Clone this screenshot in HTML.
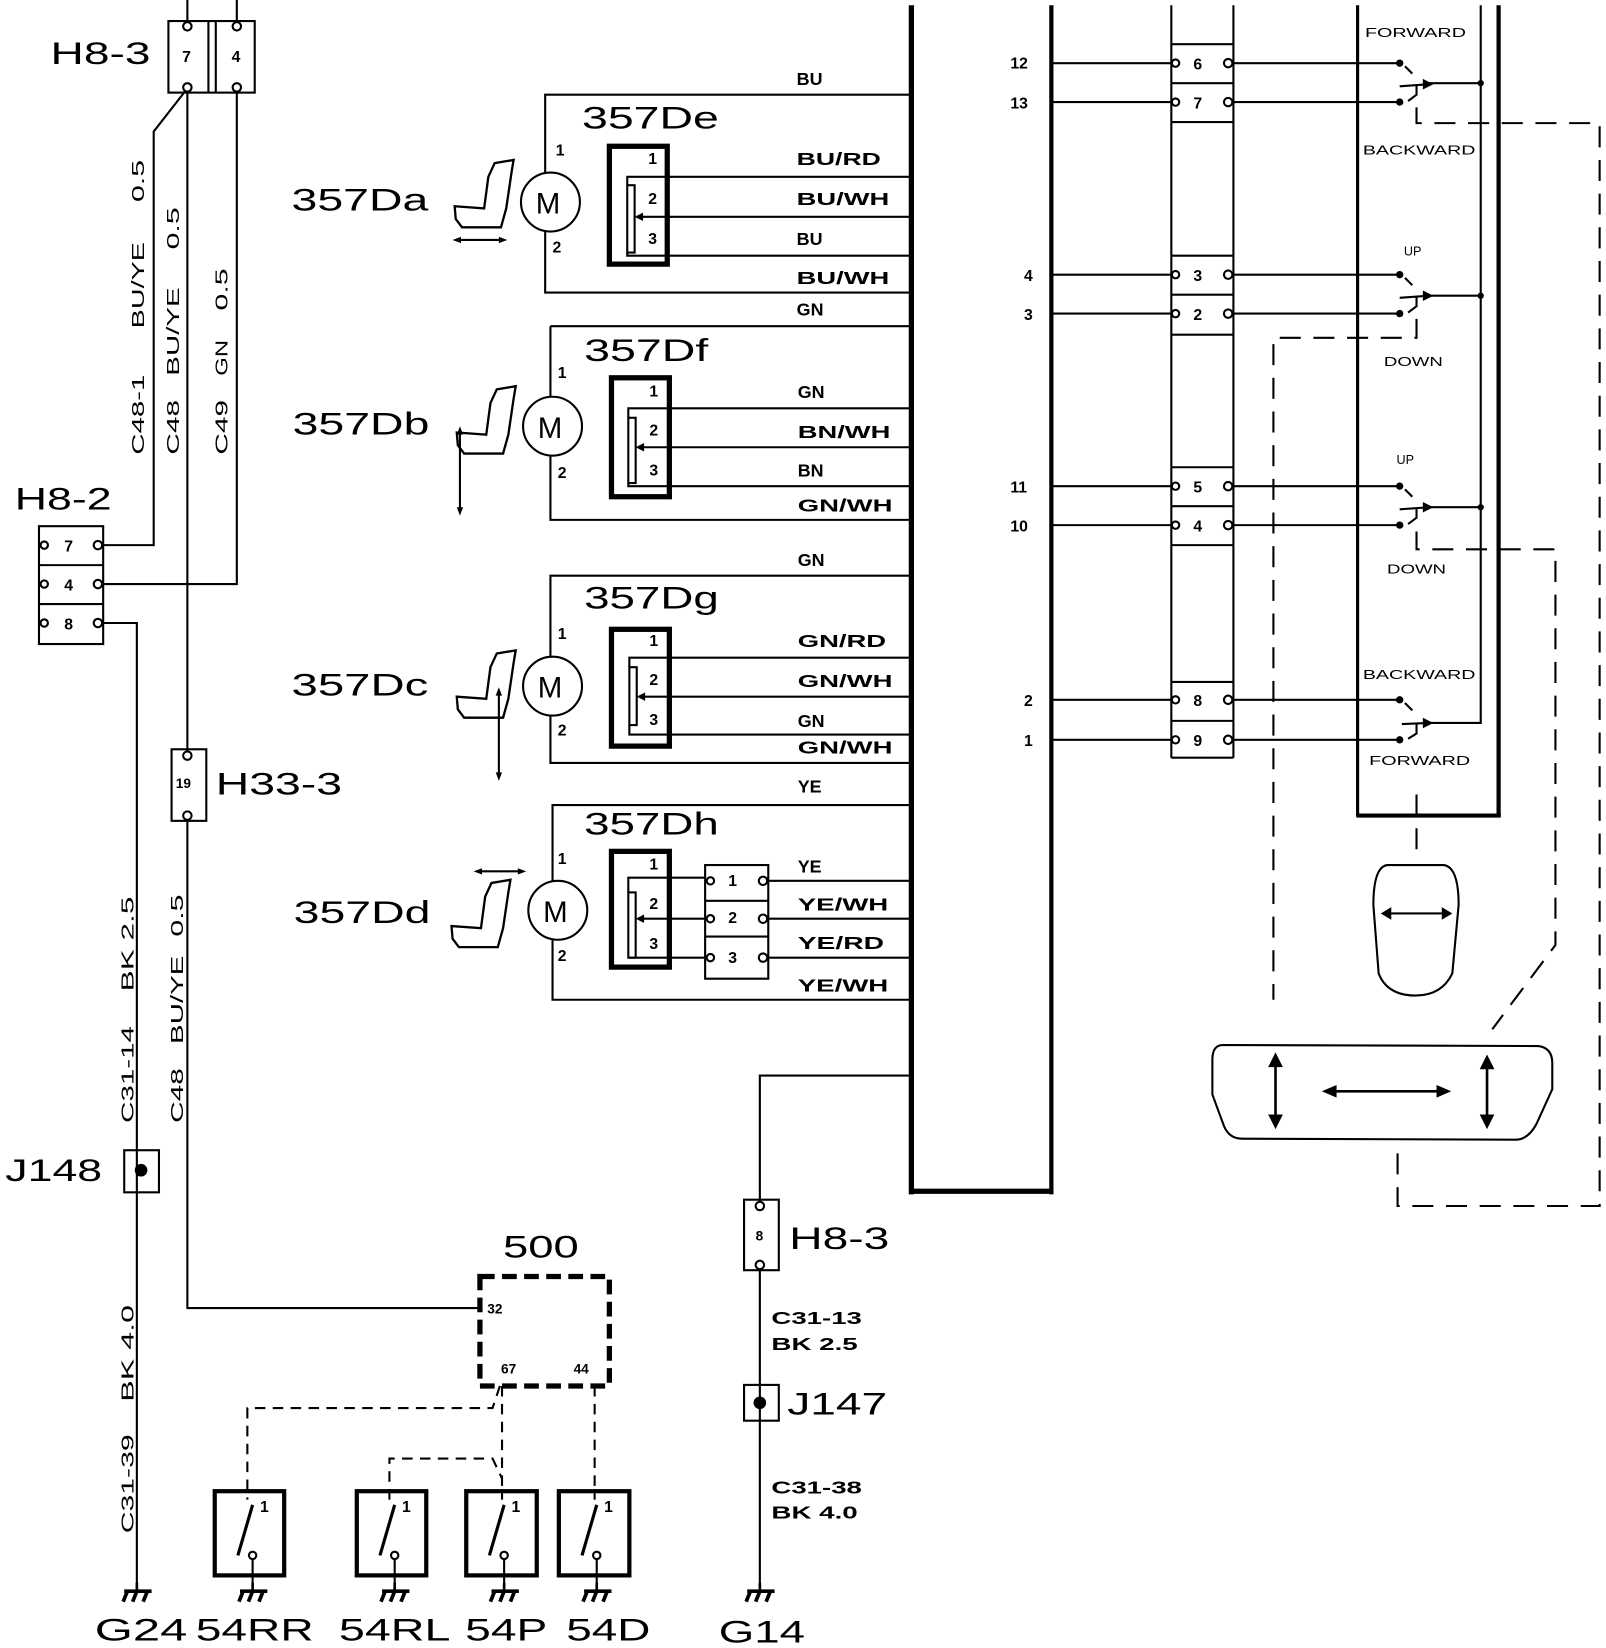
<!DOCTYPE html>
<html><head><meta charset="utf-8"><style>
html,body{margin:0;padding:0;background:#fff;}
svg{display:block;}
text{font-family:"Liberation Sans",sans-serif;fill:#000;}
.big{font-size:30px;}
.w{font-size:17px;font-weight:bold;}
.s{font-size:12px;}
.n{font-size:15px;font-weight:bold;}
</style></head><body>
<svg width="1606" height="1648" viewBox="0 0 1526 1566" xmlns="http://www.w3.org/2000/svg">
<defs>
<g id="seat"><path d="M2 44 L30 46 L34 16 L40 3 L58 0 L56 12 L51 46 L46 64 L9 64 L3 56 Z" fill="none" stroke="#000" stroke-width="2.2"/></g>
<g id="gnd"><line x1="0" y1="0" x2="0" y2="-8" stroke="#000" stroke-width="2.5"/><path d="M-12 0 L14 0 M-9 0 L-13 10 M0 0 L-4 10 M10 0 L6 10" stroke="#000" stroke-width="3.5" fill="none"/></g>
</defs>
<g stroke="#000" fill="none" stroke-width="2">
<rect x="160" y="20" width="82" height="68"/>
<line x1="198" y1="20" x2="198" y2="88"/><line x1="205" y1="20" x2="205" y2="88"/>
<line x1="178" y1="0" x2="178" y2="21"/><line x1="225" y1="0" x2="225" y2="21"/>
<polyline points="178,84 146,125 146,518 96,518"/>
<line x1="178" y1="84" x2="178" y2="714"/>
<polyline points="225,84 225,555 96,555"/>
<polyline points="96,592 130,592 130,1505"/>
<rect x="37" y="500" width="61" height="112"/>
<line x1="37" y1="537" x2="98" y2="537"/><line x1="37" y1="574" x2="98" y2="574"/>
<rect x="163" y="712" width="33" height="68"/>
<polyline points="178,776 178,1243 455,1243"/>
<rect x="118" y="1093" width="33" height="40"/>
<rect x="456" y="1213" width="123" height="104" stroke-width="5" stroke-dasharray="14,7"/>
<g stroke-dasharray="10,7">
<polyline points="475,1317 468,1338 235,1338 235,1425"/>
<line x1="477" y1="1317" x2="477" y2="1425"/>
<polyline points="370,1425 370,1386 468,1386 477,1405"/>
<line x1="565" y1="1317" x2="565" y2="1425"/>
</g>
<g stroke-width="4">
<rect x="204" y="1417" width="66" height="80"/><rect x="339" y="1417" width="66" height="80"/>
<rect x="443" y="1417" width="67" height="80"/><rect x="531" y="1417" width="67" height="80"/>
</g>
<g stroke-width="3">
<line x1="240" y1="1430" x2="226" y2="1478"/><line x1="375" y1="1430" x2="361" y2="1478"/>
<line x1="479" y1="1430" x2="465" y2="1478"/><line x1="567" y1="1430" x2="553" y2="1478"/>
</g>
<line x1="866" y1="5" x2="866" y2="1135" stroke-width="5"/>
<line x1="999" y1="5" x2="999" y2="1135" stroke-width="4"/>
<line x1="864" y1="1132" x2="1001" y2="1132" stroke-width="5"/>
<polyline points="865,90 518,90 518,164"/><polyline points="518,220 518,278 865,278"/>
<rect x="579" y="139" width="55" height="112" stroke-width="5"/>
<rect x="596" y="176" width="7" height="64"/>
<polyline points="865,168 596,168 596,176"/><line x1="865" y1="206" x2="606" y2="206"/>
<polyline points="865,243 596,243 596,240"/>
<line x1="865" y1="310" x2="523" y2="310"/>
<polyline points="523,310 523,377"/><polyline points="523,433 523,494 865,494"/>
<rect x="581" y="359" width="55" height="113" stroke-width="5"/>
<rect x="597" y="397" width="7" height="62"/>
<polyline points="865,388 597,388 597,397"/><line x1="865" y1="425" x2="607" y2="425"/>
<polyline points="865,462 597,462 597,459"/>
<polyline points="865,547 523,547 523,624"/><polyline points="523,680 523,725 865,725"/>
<rect x="581" y="598" width="55" height="111" stroke-width="5"/>
<rect x="598" y="634" width="7" height="55"/>
<polyline points="865,625 598,625 598,634"/><line x1="865" y1="662" x2="608" y2="662"/>
<polyline points="865,698 598,698 598,689"/>
<polyline points="865,765 525,765 525,838"/><polyline points="525,893 525,950 865,950"/>
<rect x="581" y="809" width="55" height="110" stroke-width="5"/>
<rect x="597" y="848" width="7" height="62"/>
<polyline points="670,834 597,834 597,848"/><line x1="670" y1="873" x2="607" y2="873"/>
<polyline points="670,910 597,910 597,910"/>
<rect x="670" y="822" width="60" height="108"/>
<line x1="670" y1="856" x2="730" y2="856"/><line x1="670" y1="890" x2="730" y2="890"/>
<line x1="730" y1="837" x2="865" y2="837"/><line x1="730" y1="873" x2="865" y2="873"/><line x1="730" y1="910" x2="865" y2="910"/>
<polyline points="865,1022 722,1022 722,1142"/>
<rect x="707" y="1140" width="33" height="67"/>
<line x1="722" y1="1203" x2="722" y2="1505"/>
<rect x="707" y="1316" width="33" height="34"/>
<circle cx="523" cy="192" r="28" fill="#fff"/><circle cx="525" cy="405" r="28" fill="#fff"/>
<circle cx="525" cy="652" r="28" fill="#fff"/><circle cx="530" cy="865" r="28" fill="#fff"/>
<line x1="1113" y1="5" x2="1113" y2="720"/><line x1="1172" y1="5" x2="1172" y2="720"/>
<line x1="1113" y1="42" x2="1172" y2="42"/><line x1="1113" y1="79" x2="1172" y2="79"/><line x1="1113" y1="116" x2="1172" y2="116"/>
<line x1="1113" y1="243" x2="1172" y2="243"/><line x1="1113" y1="280" x2="1172" y2="280"/><line x1="1113" y1="318" x2="1172" y2="318"/>
<line x1="1113" y1="444" x2="1172" y2="444"/><line x1="1113" y1="481" x2="1172" y2="481"/><line x1="1113" y1="518" x2="1172" y2="518"/>
<line x1="1113" y1="648" x2="1172" y2="648"/><line x1="1113" y1="685" x2="1172" y2="685"/><line x1="1113" y1="720" x2="1172" y2="720"/>
<g>
<line x1="999" y1="60" x2="1114" y2="60"/><line x1="999" y1="97" x2="1114" y2="97"/>
<line x1="999" y1="261" x2="1114" y2="261"/><line x1="999" y1="298" x2="1114" y2="298"/>
<line x1="999" y1="462" x2="1114" y2="462"/><line x1="999" y1="499" x2="1114" y2="499"/>
<line x1="999" y1="665" x2="1114" y2="665"/><line x1="999" y1="703" x2="1114" y2="703"/>
<line x1="1171" y1="60" x2="1329" y2="60"/><line x1="1171" y1="97" x2="1329" y2="97"/>
<line x1="1171" y1="261" x2="1329" y2="261"/><line x1="1171" y1="298" x2="1329" y2="298"/>
<line x1="1171" y1="462" x2="1329" y2="462"/><line x1="1171" y1="499" x2="1329" y2="499"/>
<line x1="1171" y1="665" x2="1329" y2="665"/><line x1="1171" y1="703" x2="1329" y2="703"/>
</g>
<line x1="1290" y1="5" x2="1290" y2="776" stroke-width="3"/>
<line x1="1424" y1="5" x2="1424" y2="776" stroke-width="4"/>
<line x1="1289" y1="775" x2="1426" y2="775" stroke-width="4"/>
<line x1="1407" y1="5" x2="1407" y2="688"/>
<g stroke-width="2">
<path d="M1335 63 L1342 70 M1330 82 L1358 80 M1346 80 L1346 90 L1338 96"/>
<line x1="1358" y1="79" x2="1407" y2="79"/>
<path d="M1335 264 L1342 271 M1330 283 L1358 281 M1346 281 L1346 291 L1338 297"/>
<line x1="1358" y1="281" x2="1407" y2="281"/>
<path d="M1335 465 L1342 472 M1330 484 L1358 482 M1346 482 L1346 492 L1338 498"/>
<line x1="1358" y1="482" x2="1407" y2="482"/>
<path d="M1335 668 L1342 675 M1332 688 L1358 687 M1346 687 L1346 697 L1338 702"/>
<line x1="1358" y1="687" x2="1407" y2="687"/>
</g>
<g stroke-dasharray="20,12" stroke-width="2">
<polyline points="1346,102 1346,117 1520,117 1520,1146 1328,1146 1328,1085"/>
<polyline points="1346,303 1346,321 1210,321 1210,950"/>
<polyline points="1346,505 1346,522 1478,522 1478,898 1418,978"/>
<line x1="1346" y1="755" x2="1346" y2="815"/>
</g>
<path d="M1318 822 L1372 822 Q1386 824 1386 860 L1380 925 Q1370 946 1345 946 Q1318 946 1310 925 L1305 860 Q1305 824 1318 822 Z"/>
<line x1="1318" y1="868" x2="1374" y2="868"/>
<path d="M1162 993 L1462 994 Q1475 996 1475 1010 L1475 1035 L1460 1068 Q1452 1083 1440 1083 L1180 1082 Q1168 1082 1163 1070 L1152 1040 L1152 1007 Q1152 993 1162 993 Z"/>
<line x1="1212" y1="1010" x2="1212" y2="1062" stroke-width="2.5"/>
<line x1="1270" y1="1037" x2="1365" y2="1037" stroke-width="2.5"/>
<line x1="1413" y1="1012" x2="1413" y2="1062" stroke-width="2.5"/>
<line x1="436" y1="228" x2="476" y2="228"/>
<line x1="437" y1="412" x2="437" y2="485"/>
<line x1="474" y1="660" x2="474" y2="738"/>
<line x1="456" y1="828" x2="494" y2="828"/>
</g>
<g fill="#000">
<polygon points="1312,868 1322,862 1322,874"/><polygon points="1380,868 1370,862 1370,874"/>
<polygon points="1212,1000 1205,1014 1219,1014"/><polygon points="1212,1073 1205,1059 1219,1059"/>
<polygon points="1256,1037 1270,1031 1270,1043"/><polygon points="1379,1037 1365,1031 1365,1043"/>
<polygon points="1413,1002 1406,1016 1420,1016"/><polygon points="1413,1073 1406,1059 1420,1059"/>
<polygon points="430,228 438,225 438,231"/><polygon points="482,228 474,225 474,231"/>
<polygon points="437,405 434,413 440,413"/><polygon points="437,490 434,482 440,482"/>
<polygon points="474,653 471,661 477,661"/><polygon points="474,742 471,734 477,734"/>
<polygon points="450,828 458,825 458,831"/><polygon points="500,828 492,825 492,831"/>
<polygon points="603,206 611,202 611,210"/><polygon points="604,425 612,421 612,429"/>
<polygon points="605,662 613,658 613,666"/><polygon points="604,873 612,869 612,877"/>
<polygon points="1362,80 1352,75 1352,85"/><polygon points="1362,281 1352,276 1352,286"/>
<polygon points="1362,482 1352,477 1352,487"/><polygon points="1362,687 1352,682 1352,692"/>
<circle cx="1407" cy="79" r="3"/><circle cx="1407" cy="281" r="3"/><circle cx="1407" cy="482" r="3"/>
<circle cx="1330" cy="60" r="3.5"/><circle cx="1330" cy="97" r="3.5"/><circle cx="1330" cy="261" r="3.5"/><circle cx="1330" cy="298" r="3.5"/>
<circle cx="1330" cy="462" r="3.5"/><circle cx="1330" cy="499" r="3.5"/><circle cx="1330" cy="665" r="3.5"/><circle cx="1330" cy="703" r="3.5"/>
<circle cx="134" cy="1112" r="6"/><circle cx="722" cy="1333" r="6"/>
</g>
<g fill="#fff" stroke="#000" stroke-width="2">
<circle cx="178" cy="25" r="4"/><circle cx="225" cy="25" r="4"/><circle cx="178" cy="83" r="4"/><circle cx="225" cy="83" r="4"/>
<circle cx="42" cy="518" r="3.5"/><circle cx="93" cy="518" r="4"/><circle cx="42" cy="555" r="3.5"/><circle cx="93" cy="555" r="4"/><circle cx="42" cy="592" r="3.5"/><circle cx="93" cy="592" r="4"/>
<circle cx="178" cy="718" r="4"/><circle cx="178" cy="775" r="4"/>
<circle cx="722" cy="1146" r="4"/><circle cx="722" cy="1202" r="4"/>
<circle cx="675" cy="837" r="3.5"/><circle cx="725" cy="837" r="4"/><circle cx="675" cy="873" r="3.5"/><circle cx="725" cy="873" r="4"/><circle cx="675" cy="910" r="3.5"/><circle cx="725" cy="910" r="4"/>
<circle cx="1117" cy="60" r="3.5"/><circle cx="1167" cy="60" r="4"/><circle cx="1117" cy="97" r="3.5"/><circle cx="1167" cy="97" r="4"/>
<circle cx="1117" cy="261" r="3.5"/><circle cx="1167" cy="261" r="4"/><circle cx="1117" cy="298" r="3.5"/><circle cx="1167" cy="298" r="4"/>
<circle cx="1117" cy="462" r="3.5"/><circle cx="1167" cy="462" r="4"/><circle cx="1117" cy="499" r="3.5"/><circle cx="1167" cy="499" r="4"/>
<circle cx="1117" cy="665" r="3.5"/><circle cx="1167" cy="665" r="4"/><circle cx="1117" cy="703" r="3.5"/><circle cx="1167" cy="703" r="4"/>
<circle cx="240" cy="1478" r="3.5"/><circle cx="375" cy="1478" r="3.5"/><circle cx="479" cy="1478" r="3.5"/><circle cx="567" cy="1478" r="3.5"/>
</g>
<g stroke="#000" stroke-width="2"><line x1="240" y1="1482" x2="240" y2="1510"/><line x1="375" y1="1482" x2="375" y2="1510"/><line x1="479" y1="1482" x2="479" y2="1510"/><line x1="567" y1="1482" x2="567" y2="1510"/></g>
<use href="#gnd" x="130" y="1512"/><use href="#gnd" x="240" y="1512"/><use href="#gnd" x="375" y="1512"/>
<use href="#gnd" x="479" y="1512"/><use href="#gnd" x="567" y="1512"/><use href="#gnd" x="722" y="1512"/>
<use href="#seat" x="430" y="152"/><use href="#seat" x="432" y="367"/><use href="#seat" x="432" y="618"/><use href="#seat" x="427" y="836"/>
<g><text x="509" y="203" font-size="28">M</text><text x="511" y="416" font-size="28">M</text><text x="511" y="663" font-size="28">M</text><text x="516" y="876" font-size="28">M</text></g>
<g class="big">
<text x="48" y="61" textLength="95" lengthAdjust="spacingAndGlyphs">H8-3</text>
<text x="14" y="484" textLength="92" lengthAdjust="spacingAndGlyphs">H8-2</text>
<text x="277" y="200" textLength="130" lengthAdjust="spacingAndGlyphs">357Da</text>
<text x="278" y="413" textLength="130" lengthAdjust="spacingAndGlyphs">357Db</text>
<text x="277" y="661" textLength="130" lengthAdjust="spacingAndGlyphs">357Dc</text>
<text x="279" y="877" textLength="130" lengthAdjust="spacingAndGlyphs">357Dd</text>
<text x="553" y="122" textLength="130" lengthAdjust="spacingAndGlyphs">357De</text>
<text x="555" y="343" textLength="118" lengthAdjust="spacingAndGlyphs">357Df</text>
<text x="555" y="578" textLength="128" lengthAdjust="spacingAndGlyphs">357Dg</text>
<text x="555" y="793" textLength="128" lengthAdjust="spacingAndGlyphs">357Dh</text>
<text x="205" y="755" textLength="120" lengthAdjust="spacingAndGlyphs">H33-3</text>
<text x="5" y="1122" textLength="92" lengthAdjust="spacingAndGlyphs">J148</text>
<text x="478" y="1195" textLength="72" lengthAdjust="spacingAndGlyphs">500</text>
<text x="750" y="1187" textLength="95" lengthAdjust="spacingAndGlyphs">H8-3</text>
<text x="748" y="1344" textLength="95" lengthAdjust="spacingAndGlyphs">J147</text>
<text x="90" y="1559" textLength="88" lengthAdjust="spacingAndGlyphs">G24</text>
<text x="186" y="1559" textLength="112" lengthAdjust="spacingAndGlyphs">54RR</text>
<text x="322" y="1559" textLength="106" lengthAdjust="spacingAndGlyphs">54RL</text>
<text x="442" y="1559" textLength="78" lengthAdjust="spacingAndGlyphs">54P</text>
<text x="538" y="1559" textLength="80" lengthAdjust="spacingAndGlyphs">54D</text>
<text x="683" y="1561" textLength="82" lengthAdjust="spacingAndGlyphs">G14</text>
</g>
<g class="w">
<text x="757" y="81">BU</text>
<text x="757" y="157" textLength="80" lengthAdjust="spacingAndGlyphs">BU/RD</text>
<text x="757" y="195" textLength="88" lengthAdjust="spacingAndGlyphs">BU/WH</text>
<text x="757" y="233">BU</text>
<text x="757" y="270" textLength="88" lengthAdjust="spacingAndGlyphs">BU/WH</text>
<text x="757" y="300">GN</text>
<text x="758" y="378">GN</text>
<text x="758" y="416" textLength="88" lengthAdjust="spacingAndGlyphs">BN/WH</text>
<text x="758" y="453">BN</text>
<text x="758" y="486" textLength="90" lengthAdjust="spacingAndGlyphs">GN/WH</text>
<text x="758" y="538">GN</text>
<text x="758" y="615" textLength="84" lengthAdjust="spacingAndGlyphs">GN/RD</text>
<text x="758" y="653" textLength="90" lengthAdjust="spacingAndGlyphs">GN/WH</text>
<text x="758" y="691">GN</text>
<text x="758" y="716" textLength="90" lengthAdjust="spacingAndGlyphs">GN/WH</text>
<text x="758" y="753">YE</text>
<text x="758" y="829">YE</text>
<text x="758" y="865" textLength="86" lengthAdjust="spacingAndGlyphs">YE/WH</text>
<text x="758" y="902" textLength="82" lengthAdjust="spacingAndGlyphs">YE/RD</text>
<text x="758" y="942" textLength="86" lengthAdjust="spacingAndGlyphs">YE/WH</text>
<text x="733" y="1258" textLength="86" lengthAdjust="spacingAndGlyphs">C31-13</text>
<text x="733" y="1283" textLength="82" lengthAdjust="spacingAndGlyphs">BK 2.5</text>
<text x="733" y="1419" textLength="86" lengthAdjust="spacingAndGlyphs">C31-38</text>
<text x="733" y="1443" textLength="82" lengthAdjust="spacingAndGlyphs">BK 4.0</text>
</g>
<g font-size="17">
<text transform="translate(137,432) rotate(-90)" textLength="76" lengthAdjust="spacingAndGlyphs">C48-1</text>
<text transform="translate(137,312) rotate(-90)" textLength="82" lengthAdjust="spacingAndGlyphs">BU/YE</text>
<text transform="translate(137,192) rotate(-90)" textLength="40" lengthAdjust="spacingAndGlyphs">0.5</text>
<text transform="translate(170,432) rotate(-90)" textLength="52" lengthAdjust="spacingAndGlyphs">C48</text>
<text transform="translate(170,357) rotate(-90)" textLength="84" lengthAdjust="spacingAndGlyphs">BU/YE</text>
<text transform="translate(170,237) rotate(-90)" textLength="40" lengthAdjust="spacingAndGlyphs">0.5</text>
<text transform="translate(216,432) rotate(-90)" textLength="52" lengthAdjust="spacingAndGlyphs">C49</text>
<text transform="translate(216,357) rotate(-90)" textLength="34" lengthAdjust="spacingAndGlyphs">GN</text>
<text transform="translate(216,295) rotate(-90)" textLength="40" lengthAdjust="spacingAndGlyphs">0.5</text>
<text transform="translate(127,1067) rotate(-90)" textLength="92" lengthAdjust="spacingAndGlyphs">C31-14</text>
<text transform="translate(127,942) rotate(-90)" textLength="90" lengthAdjust="spacingAndGlyphs">BK 2.5</text>
<text transform="translate(174,1067) rotate(-90)" textLength="52" lengthAdjust="spacingAndGlyphs">C48</text>
<text transform="translate(174,992) rotate(-90)" textLength="84" lengthAdjust="spacingAndGlyphs">BU/YE</text>
<text transform="translate(174,890) rotate(-90)" textLength="40" lengthAdjust="spacingAndGlyphs">0.5</text>
<text transform="translate(127,1457) rotate(-90)" textLength="94" lengthAdjust="spacingAndGlyphs">C31-39</text>
<text transform="translate(127,1332) rotate(-90)" textLength="92" lengthAdjust="spacingAndGlyphs">BK 4.0</text>
</g>
<g class="n">
<text x="173" y="59">7</text><text x="220" y="59">4</text>
<text x="61" y="524">7</text><text x="61" y="561">4</text><text x="61" y="598">8</text>
<text x="167" y="749" font-size="13">19</text><text x="718" y="1179" font-size="13">8</text>
<text x="616" y="156">1</text><text x="616" y="194">2</text><text x="616" y="232">3</text>
<text x="617" y="377">1</text><text x="617" y="414">2</text><text x="617" y="452">3</text>
<text x="617" y="614">1</text><text x="617" y="651">2</text><text x="617" y="689">3</text>
<text x="617" y="826">1</text><text x="617" y="864">2</text><text x="617" y="902">3</text>
<text x="692" y="842">1</text><text x="692" y="877">2</text><text x="692" y="915">3</text>
<text x="528" y="148">1</text><text x="525" y="240">2</text>
<text x="530" y="359">1</text><text x="530" y="454">2</text>
<text x="530" y="607">1</text><text x="530" y="699">2</text>
<text x="530" y="821">1</text><text x="530" y="913">2</text>
<text x="1134" y="66">6</text><text x="1134" y="103">7</text><text x="1134" y="267">3</text><text x="1134" y="304">2</text>
<text x="1134" y="468">5</text><text x="1134" y="505">4</text><text x="1134" y="671">8</text><text x="1134" y="709">9</text>
<text x="960" y="65">12</text><text x="960" y="103">13</text><text x="973" y="267">4</text><text x="973" y="304">3</text>
<text x="960" y="468">11</text><text x="960" y="505">10</text><text x="973" y="671">2</text><text x="973" y="709">1</text>
<text x="463" y="1248" font-size="13">32</text><text x="476" y="1305" font-size="13">67</text><text x="545" y="1305" font-size="13">44</text>
<text x="247" y="1437">1</text><text x="382" y="1437">1</text><text x="486" y="1437">1</text><text x="574" y="1437">1</text>
</g>
<g class="s">
<text x="1297" y="35" textLength="96" lengthAdjust="spacingAndGlyphs">FORWARD</text>
<text x="1295" y="147" textLength="107" lengthAdjust="spacingAndGlyphs">BACKWARD</text>
<text x="1334" y="243">UP</text>
<text x="1315" y="348" textLength="56" lengthAdjust="spacingAndGlyphs">DOWN</text>
<text x="1327" y="441">UP</text>
<text x="1318" y="545" textLength="56" lengthAdjust="spacingAndGlyphs">DOWN</text>
<text x="1295" y="645" textLength="107" lengthAdjust="spacingAndGlyphs">BACKWARD</text>
<text x="1301" y="727" textLength="96" lengthAdjust="spacingAndGlyphs">FORWARD</text>
</g>
</svg>
</body></html>
